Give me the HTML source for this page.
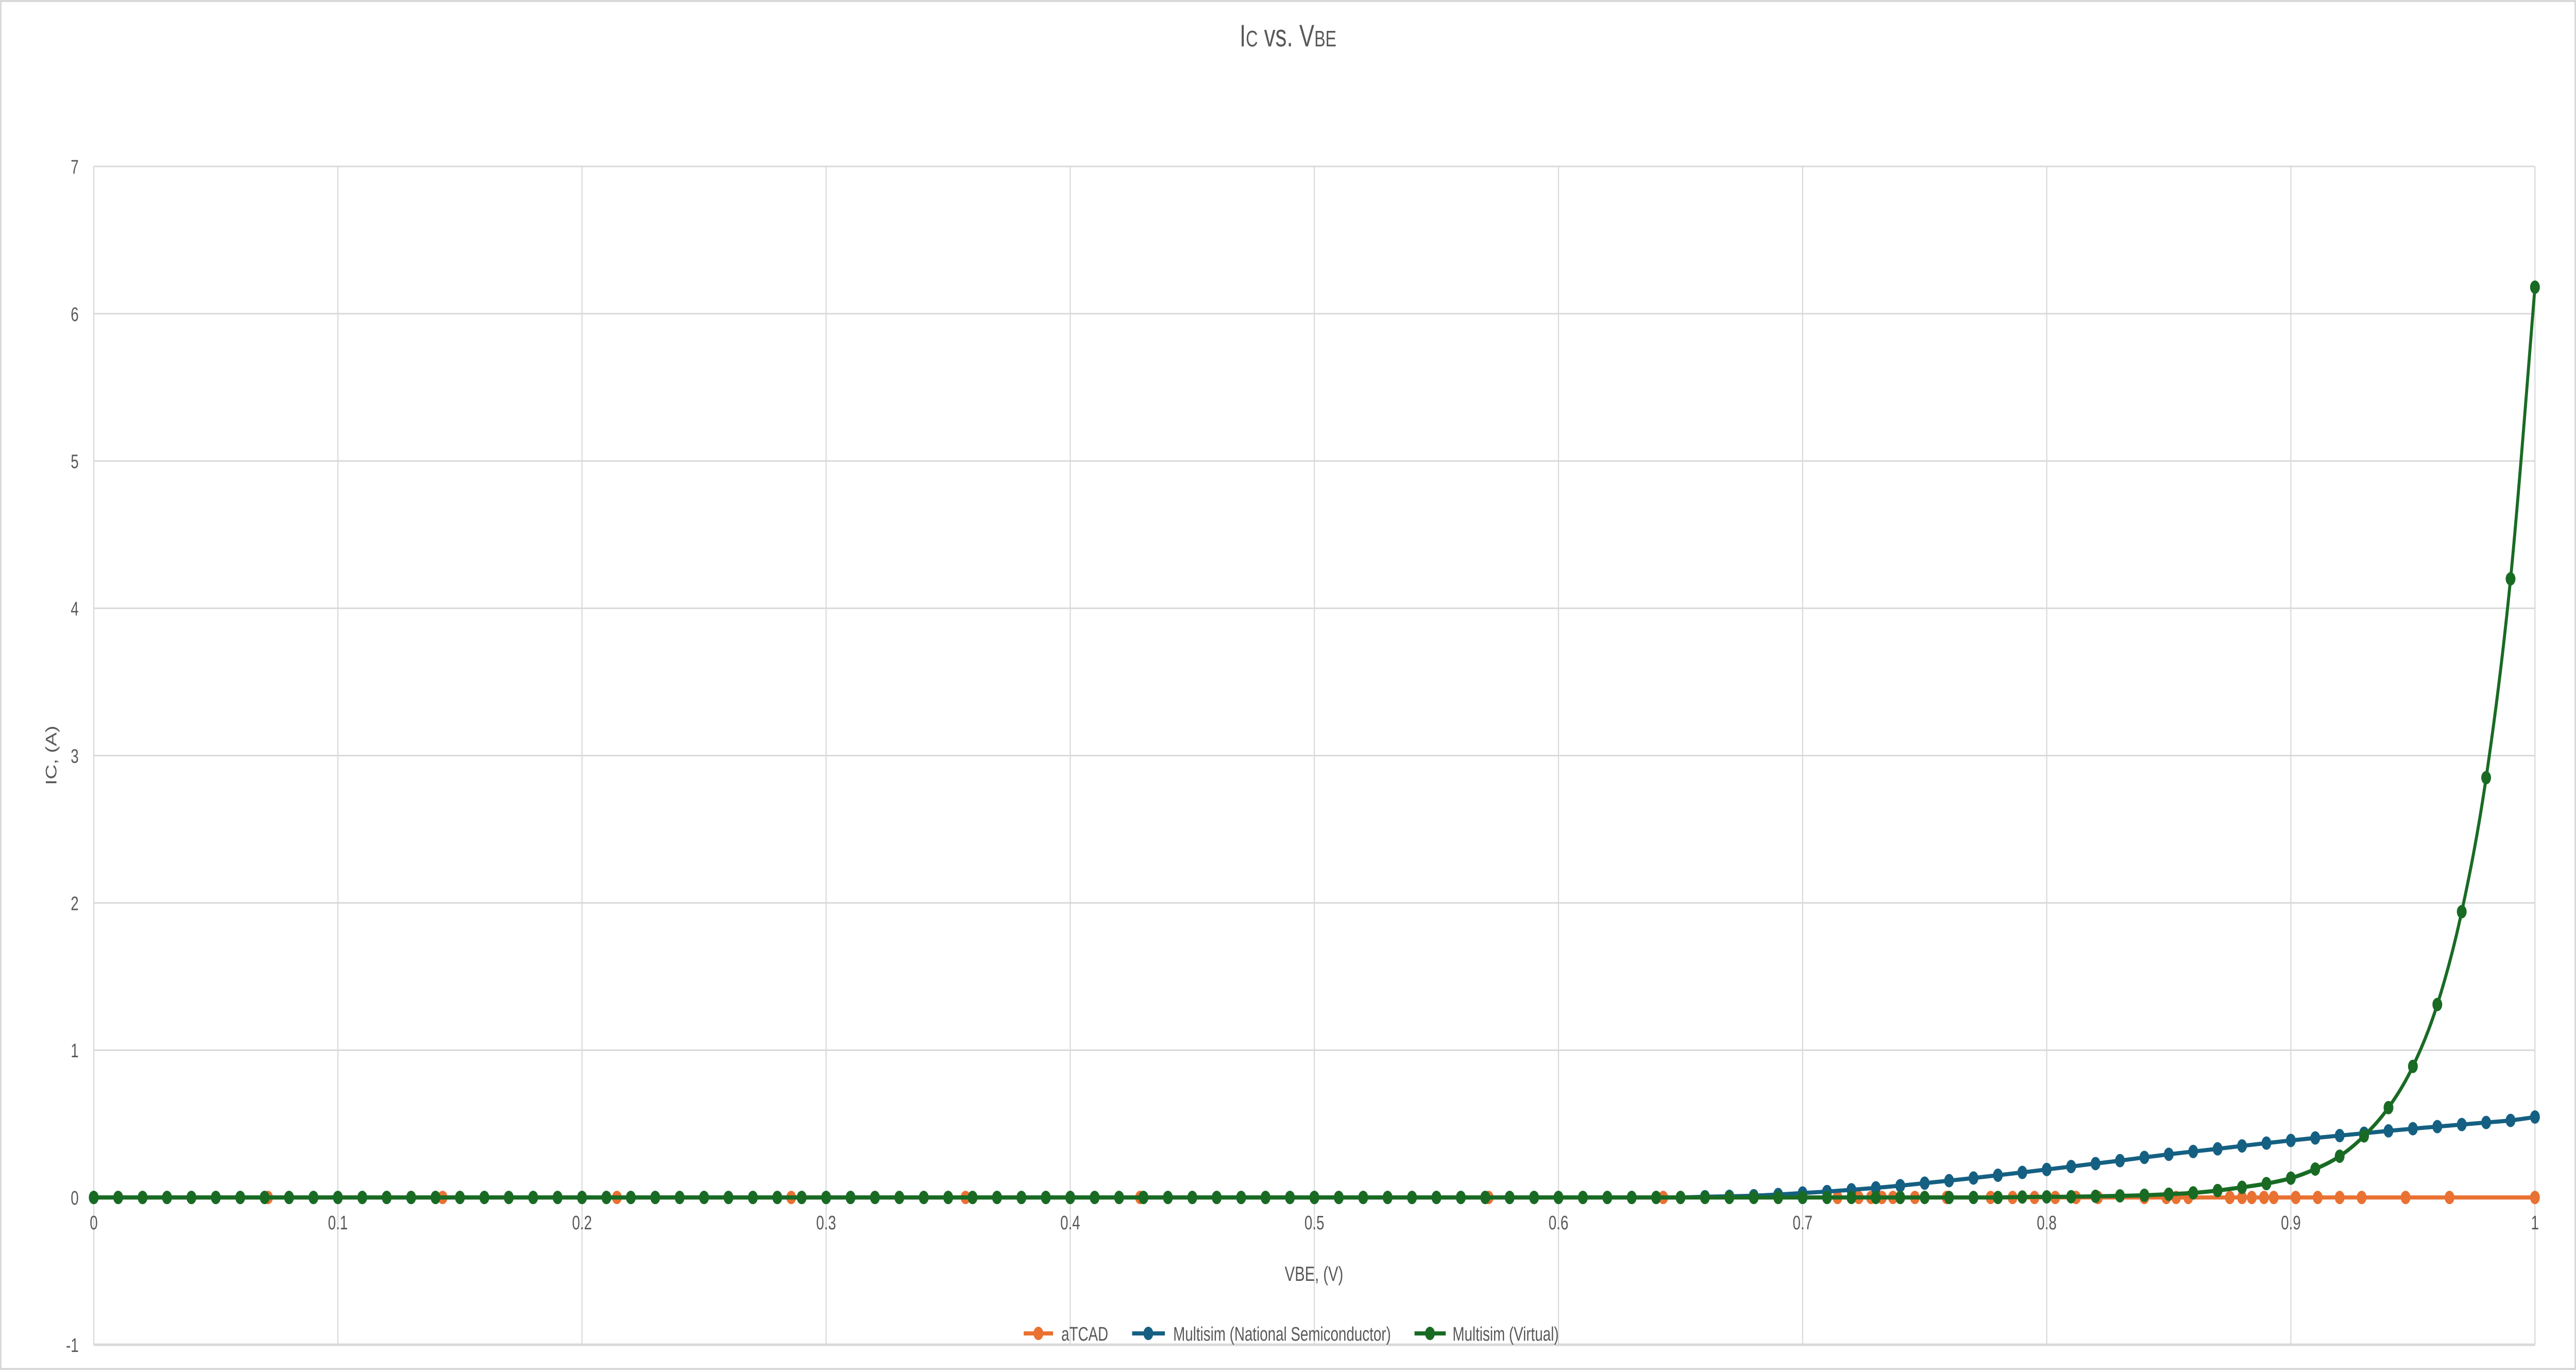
<!DOCTYPE html>
<html><head><meta charset="utf-8"><style>
html,body{margin:0;padding:0;background:#fff;width:100%;height:100%;overflow:hidden}
svg{display:block;width:100vw;height:100vh}
text{font-family:"Liberation Sans",sans-serif;fill:#595959}
</style></head><body>
<svg id="chart" viewBox="0 0 6842 2659" preserveAspectRatio="none" xmlns="http://www.w3.org/2000/svg">
<rect x="2" y="2" width="6838" height="2655" fill="#fff" stroke="#d9d9d9" stroke-width="4"/>
<text x="3421" y="90" text-anchor="middle" font-size="60">I<tspan font-size="44">C</tspan> vs. V<tspan font-size="44">BE</tspan></text>
<g id="grid"></g>
<g id="ticks"></g>
<g id="series"></g>
<text transform="translate(150,1466) rotate(-90)" text-anchor="middle" font-size="40">IC, (A)</text>
<text x="3490" y="2486" text-anchor="middle" font-size="40">VBE, (V)</text>
<g>
 <g>
  <line x1="2719" y1="2588" x2="2797" y2="2588" stroke="#E97132" stroke-width="8"/><circle cx="2758" cy="2588" r="13" fill="#E97132"/>
  <text x="2819" y="2602" font-size="38">aTCAD</text></g>
 <g>
  <line x1="3007" y1="2588" x2="3094" y2="2588" stroke="#156082" stroke-width="8"/><circle cx="3050" cy="2588" r="13" fill="#156082"/>
  <text x="3116" y="2602" font-size="38">Multisim (National Semiconductor)</text></g>
 <g>
  <line x1="3757" y1="2588" x2="3840" y2="2588" stroke="#196B24" stroke-width="8"/><circle cx="3798" cy="2588" r="13" fill="#196B24"/>
  <text x="3858" y="2602" font-size="38">Multisim (Virtual)</text></g>
</g>
</svg>
<script>
const xTicks=[0,0.1,0.2,0.3,0.4,0.5,0.6,0.7,0.8,0.9,1];
const xTickLabels=["0","0.1","0.2","0.3","0.4","0.5","0.6","0.7","0.8","0.9","1"];
const yTicks=[-1,0,1,2,3,4,5,6,7];
const yTickLabels=["-1","0","1","2","3","4","5","6","7"];
const atcadX=[0,0.0714,0.1429,0.2143,0.2857,0.3571,0.4286,0.5,0.5714,0.6429,0.7143,0.723,0.728,0.7325,0.737,0.746,0.759,0.777,0.786,0.795,0.8035,0.812,0.821,0.84,0.849,0.853,0.858,0.875,0.88,0.884,0.889,0.893,0.902,0.911,0.92,0.929,0.947,0.965,1.0];
const atcadY=[0,0,0,0,0,0,0,0,0,0,0,0,0,0,0,0,0,0,0,0,0,0,0,0,0,0,0,0,0,0,0,0,0,0,0,0,0,0,0];
const multisimX=[0,0.01,0.02,0.03,0.04,0.05,0.06,0.07,0.08,0.09,0.1,0.11,0.12,0.13,0.14,0.15,0.16,0.17,0.18,0.19,0.2,0.21,0.22,0.23,0.24,0.25,0.26,0.27,0.28,0.29,0.3,0.31,0.32,0.33,0.34,0.35,0.36,0.37,0.38,0.39,0.4,0.41,0.42,0.43,0.44,0.45,0.46,0.47,0.48,0.49,0.5,0.51,0.52,0.53,0.54,0.55,0.56,0.57,0.58,0.59,0.6,0.61,0.62,0.63,0.64,0.65,0.66,0.67,0.68,0.69,0.7,0.71,0.72,0.73,0.74,0.75,0.76,0.77,0.78,0.79,0.8,0.81,0.82,0.83,0.84,0.85,0.86,0.87,0.88,0.89,0.9,0.91,0.92,0.93,0.94,0.95,0.96,0.97,0.98,0.99,1.0];
const nationalY=[0,0,0,0,0,0,0,0,0,0,0,0,0,0,0,0,0,0,0,0,0,0,0,0,0,0,0,0,0,0,0,0,0,0,0,0,0,0,0,0,0,0,0,0,0,0,0,0,0,0,0,0,0,0,0,0,0,0,0,0,0,0,0,0,0,0,
0.005,0.008,0.012,0.02,0.03,0.04,0.052,0.065,0.08,0.097,0.114,0.132,0.151,0.17,0.19,0.21,0.23,0.25,0.272,0.293,0.312,0.33,0.35,0.369,0.387,0.404,0.42,0.436,0.452,0.467,0.481,0.495,0.509,0.523,0.546];
const virtualY=[0,0,0,0,0,0,0,0,0,0,0,0,0,0,0,0,0,0,0,0,0,0,0,0,0,0,0,0,0,0,0,0,0,0,0,0,0,0,0,0,0,0,0,0,0,0,0,0,0,0,0,0,0,0,0,0,0,0,0,0,0,0,0,0,0,0,0,0,0,0,0,0,0,0,0,0,0,0,0,
0.003,0.004,0.005,0.008,0.011,0.015,0.022,0.031,0.047,0.069,0.094,0.131,0.193,0.28,0.418,0.61,0.89,1.31,1.94,2.85,4.2,6.18];

const NS="http://www.w3.org/2000/svg";
const L=249,R=6733,T=323,B=2610,ymin=-1,ymax=7;
const sx=v=>L+(R-L)*v;
const sy=v=>B-(B-T)*(v-ymin)/(ymax-ymin);
function mk(tag,attrs,parent){const e=document.createElementNS(NS,tag);for(const k in attrs)e.setAttribute(k,attrs[k]);parent.appendChild(e);return e;}
const grid=document.getElementById('grid'),ticks=document.getElementById('ticks'),series=document.getElementById('series');
yTicks.forEach((v,i)=>{
 const ln=mk('line',{x1:L,x2:R,y1:sy(v),y2:sy(v),stroke:'#d9d9d9','stroke-width':v===ymin?5:3},grid);
 
 
 const t=mk('text',{x:L-40,y:sy(v)+14,'text-anchor':'end','font-size':38},ticks);t.textContent=yTickLabels[i];
 
 
});
xTicks.forEach((v,i)=>{
 const ln=mk('line',{x1:sx(v),x2:sx(v),y1:T,y2:B,stroke:'#d9d9d9','stroke-width':3},grid);
 
 
 const t=mk('text',{x:sx(v),y:sy(0)+62,'text-anchor':'middle','font-size':38},ticks);t.textContent=xTickLabels[i];
 
 
});
function drawSeries(xs,ys,color,name,smooth){
 const g=mk('g',{},series);
 
 
 const P=xs.map((x,i)=>[sx(x),sy(ys[i])]);
 let d='M'+P[0][0]+','+P[0][1];
 for(let i=1;i<P.length;i++){
  if(smooth){
   const p0=P[Math.max(0,i-2)],p1=P[i-1],p2=P[i],p3=P[Math.min(P.length-1,i+1)];
   const c1=[p1[0]+(p2[0]-p0[0])/6,p1[1]+(p2[1]-p0[1])/6],c2=[p2[0]-(p3[0]-p1[0])/6,p2[1]-(p3[1]-p1[1])/6];
   d+=' C'+c1+' '+c2+' '+p2;
  } else d+=' L'+P[i][0]+','+P[i][1];
 }
 const path=mk('path',{d:d,fill:'none',stroke:color,'stroke-width':8,'stroke-linejoin':'round'},g);
 
 
 P.forEach(p=>{
  const c=mk('circle',{cx:p[0],cy:p[1],r:13,fill:color},g);
  
  
 });
}
drawSeries(atcadX,atcadY,'#E97132','atcad-series',false);
drawSeries(multisimX,nationalY,'#156082','multisim-national-series',true);
drawSeries(multisimX,virtualY,'#196B24','multisim-virtual-series',true);
</script>
</body></html>
